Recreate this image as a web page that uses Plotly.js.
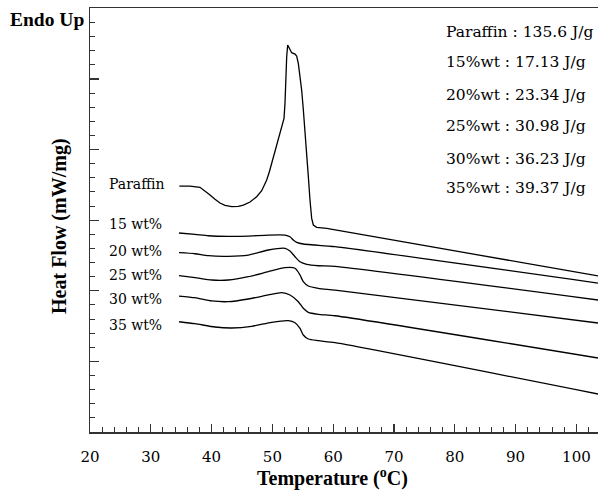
<!DOCTYPE html>
<html>
<head>
<meta charset="utf-8">
<script src="https://cdn.plot.ly/plotly-3.0.1.min.js"></script>
<style>html,body{margin:0;padding:0;background:#fff}#chart{width:598px;height:497px}</style>
</head>
<body>
<div id="chart"></div>
<script>
// Temperature (°C) and heat flow (arbitrary units, 1 = one major y tick)
const tParaffin = [34.69, 36.45, 38.09, 38.91, 39.74, 40.56, 41.38, 42.20, 43.30, 44.40, 45.22, 46.32, 47.41, 48.24, 49.06, 49.50, 49.88, 50.43, 50.98, 51.52, 51.91, 52.07, 52.18, 52.35, 52.51, 52.78, 53.17, 53.72, 53.99, 54.26, 54.54, 54.81, 55.09, 55.36, 55.64, 55.91, 56.18, 56.46, 56.73, 57.28, 58.93, 79.21, 103.55];
const hfParaffin = [3.484, 3.484, 3.466, 3.418, 3.357, 3.296, 3.244, 3.211, 3.192, 3.196, 3.215, 3.258, 3.333, 3.418, 3.569, 3.687, 3.806, 3.971, 4.136, 4.301, 4.443, 4.655, 4.986, 5.316, 5.482, 5.434, 5.373, 5.354, 5.326, 5.222, 5.033, 4.844, 4.561, 4.278, 3.947, 3.617, 3.286, 3.026, 2.932, 2.899, 2.885, 2.578, 2.210];

const t15 = [34.64, 37.27, 39.46, 42.75, 46.04, 49.33, 52.07, 52.89, 53.44, 54.00, 55.08, 57.01, 60.30, 103.55];
const hf15 = [2.819, 2.800, 2.780, 2.772, 2.776, 2.790, 2.790, 2.766, 2.720, 2.687, 2.663, 2.649, 2.625, 2.110];

const t20 = [34.64, 37.27, 39.46, 42.75, 46.04, 49.33, 52.07, 52.89, 53.72, 54.54, 55.64, 57.55, 60.30, 103.55];
const hf20 = [2.540, 2.525, 2.497, 2.489, 2.507, 2.578, 2.602, 2.564, 2.483, 2.412, 2.375, 2.355, 2.347, 1.870];

const t25 = [34.64, 37.27, 40.02, 42.75, 46.04, 49.33, 52.07, 53.72, 54.54, 55.08, 55.90, 57.55, 60.30, 103.55];
const hf25 = [2.214, 2.186, 2.153, 2.153, 2.200, 2.271, 2.327, 2.319, 2.224, 2.129, 2.068, 2.035, 2.011, 1.544];

const t30 = [34.64, 37.27, 40.02, 42.75, 46.04, 49.33, 51.53, 52.89, 54.26, 55.08, 55.90, 57.55, 60.30, 103.55];
const hf30 = [1.926, 1.902, 1.856, 1.846, 1.884, 1.941, 1.973, 1.941, 1.846, 1.752, 1.695, 1.667, 1.647, 1.048];

const t35 = [34.64, 37.27, 40.56, 43.31, 46.60, 49.88, 52.62, 53.72, 54.54, 55.08, 55.90, 57.55, 60.30, 103.55];
const hf35 = [1.562, 1.534, 1.487, 1.473, 1.497, 1.554, 1.577, 1.548, 1.469, 1.374, 1.317, 1.293, 1.265, 0.538];

const curveLabels = ['Paraffin', '15 wt%', '20 wt%', '25 wt%', '30 wt%', '35 wt%'];
const labelY = [3.52, 2.946, 2.564, 2.224, 1.884, 1.516];
const enthalpyLabels = ['Paraffin : 135.6 J/g', '15%wt : 17.13 J/g', '20%wt : 23.34 J/g', '25%wt : 30.98 J/g', '30%wt : 36.23 J/g', '35%wt : 39.37 J/g'];
const enthalpyY = [0.943, 0.872, 0.795, 0.721, 0.644, 0.575];

const series = [
  [tParaffin, hfParaffin],
  [t15, hf15],
  [t20, hf20],
  [t25, hf25],
  [t30, hf30],
  [t35, hf35]
];

const traces = series.map((s, i) => ({
  x: s[0], y: s[1], type: 'scatter', mode: 'lines', name: curveLabels[i],
  line: {color: '#000', width: 1.3, shape: i === 0 ? 'linear' : 'spline', smoothing: 0.6},
  hoverinfo: 'skip'
}));

const serif = 'DejaVu Serif';
const annotations = [];
curveLabels.forEach((txt, i) => annotations.push({
  text: txt, xref: 'x', yref: 'y', x: 22.8, y: labelY[i], xanchor: 'left', yanchor: 'middle',
  showarrow: false, font: {family: serif, size: 14, color: '#000'}
}));
enthalpyLabels.forEach((txt, i) => annotations.push({
  text: txt, xref: 'paper', yref: 'paper', x: 0.697, y: enthalpyY[i], xanchor: 'left', yanchor: 'middle',
  showarrow: false, font: {family: serif, size: 15.5, color: '#000'}
}));
annotations.push({
  text: '<b>Endo Up</b>', xref: 'paper', yref: 'paper', x: -0.008, y: 0.974, xanchor: 'right', yanchor: 'middle',
  showarrow: false, font: {family: 'Liberation Serif', size: 19.5, color: '#000'}
});
annotations.push({
  text: '<b>Heat Flow (mW/mg)</b>', xref: 'paper', yref: 'paper', x: -0.059, y: 0.486, xanchor: 'center', yanchor: 'middle',
  textangle: -90, showarrow: false, font: {family: 'Liberation Serif', size: 20, color: '#000'}
});
annotations.push({
  text: '<b>Temperature (<sup>o</sup>C)</b>', xref: 'paper', yref: 'paper', x: 0.478, y: -0.108, xanchor: 'center', yanchor: 'middle',
  showarrow: false, font: {family: 'Liberation Serif', size: 20, color: '#000'}
});

const layout = {
  width: 598, height: 497,
  margin: {l: 90, r: 0, t: 8, b: 65},
  paper_bgcolor: '#fff', plot_bgcolor: '#fff',
  showlegend: false,
  xaxis: {
    range: [20, 103.55], dtick: 10, tick0: 20, ticks: 'inside', ticklen: 8, tickwidth: 1.2, tickcolor: '#333',
    showline: true, linecolor: '#333', linewidth: 1.5, mirror: true, showgrid: false, zeroline: false,
    tickfont: {family: serif, size: 15, color: '#000'}, ticklabelstandoff: 10,
    minor: {dtick: 2, tick0: 20, ticks: 'inside', ticklen: 5, tickwidth: 1, tickcolor: '#333', showgrid: false}
  },
  yaxis: {
    range: [0, 6.006], dtick: 1, tick0: 0, ticks: 'inside', ticklen: 9, tickwidth: 1.2, tickcolor: '#333',
    showline: true, linecolor: '#333', linewidth: 1.5, showgrid: false, zeroline: false, showticklabels: false,
    minor: {dtick: 0.2, tick0: 0, ticks: 'inside', ticklen: 5, tickwidth: 1, tickcolor: '#333', showgrid: false}
  },
  annotations: annotations
};

Plotly.newPlot('chart', traces, layout, {staticPlot: true, displayModeBar: false});
</script>
</body>
</html>
